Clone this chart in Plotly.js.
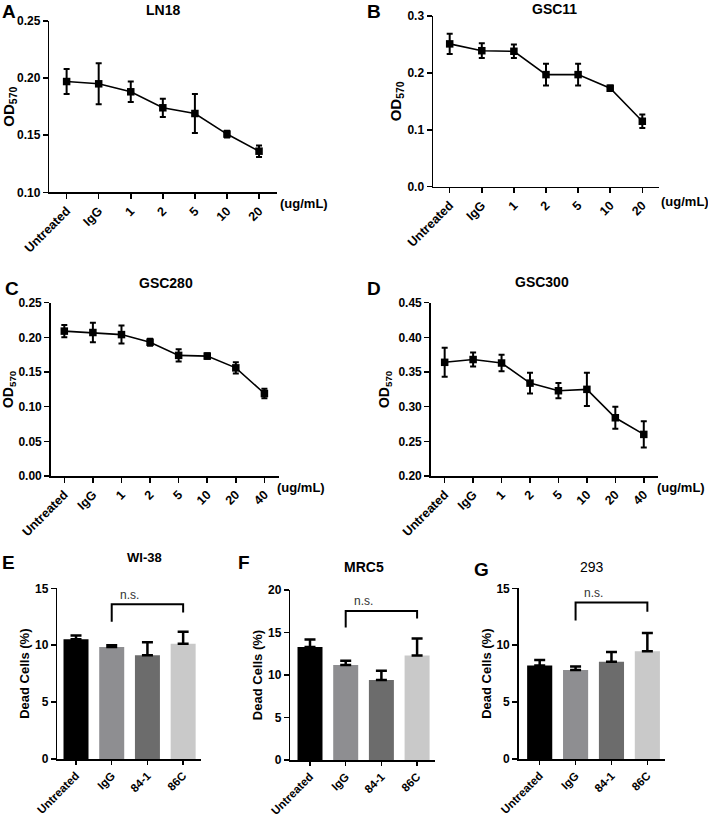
<!DOCTYPE html>
<html>
<head>
<meta charset="utf-8">
<script src="https://cdn.plot.ly/plotly-3.0.1.min.js"></script>
<style>html,body{margin:0;padding:0;background:#fff;}#chart{width:708px;height:816px;}</style>
</head>
<body>
<div id="chart"></div>
<script>
// ---- data ----
const lineCats7 = ['Untreated','IgG','1','2','5','10','20'];
const lineCats8 = ['Untreated','IgG','1','2','5','10','20','40'];
const ln18Mean = [0.197,0.195,0.188,0.174,0.169,0.151,0.136];
const ln18Err  = [0.011,0.018,0.009,0.008,0.017,0.003,0.005];
const gsc11Mean = [0.251,0.239,0.238,0.197,0.197,0.173,0.115];
const gsc11Err  = [0.018,0.013,0.012,0.019,0.019,0.005,0.012];
const gsc280Mean = [0.209,0.207,0.204,0.193,0.174,0.173,0.156,0.119];
const gsc280Err  = [0.009,0.014,0.013,0.005,0.009,0.004,0.008,0.007];
const gsc300Mean = [0.364,0.368,0.363,0.334,0.323,0.325,0.284,0.260];
const gsc300Err  = [0.021,0.010,0.012,0.015,0.011,0.024,0.016,0.019];
const barCats = ['Untreated','IgG','84-1','86C'];
const barColors = ['#000000','#8e8e91','#6c6c6c','#c9c9c9'];
const wi38Mean = [10.53,9.85,9.11,10.12];
const wi38Err  = [0.33,0.15,1.16,1.06];
const mrc5Mean = [13.28,11.17,9.41,12.30];
const mrc5Err  = [0.90,0.51,1.09,2.00];
const h293Mean = [8.21,7.83,8.54,9.46];
const h293Err  = [0.48,0.30,0.86,1.61];
// significance brackets: [leftBottom, top, rightBottom]
const wi38Bracket = [12.07,13.6,12.87];
const mrc5Bracket = [15.6,17.54,16.64];
const h293Bracket = [12.17,13.75,12.95];

const FONT = 'Liberation Sans, Arial, Helvetica, sans-serif';
const W = 708, H = 816;
const px = v => v / W;
const py = v => 1 - v / H;

const traces = [];
function lineTrace(cats, mean, err, ax) {
  traces.push({
    type: 'scatter', mode: 'lines+markers', x: cats, y: mean,
    xaxis: 'x' + ax, yaxis: 'y' + ax,
    line: {color: '#000', width: 1.6},
    marker: {symbol: 'square', size: 7.5, color: '#000'},
    error_y: {type: 'data', array: err, visible: true, color: '#000', thickness: 2, width: 3},
    showlegend: false, cliponaxis: false
  });
}
function barTrace(mean, err, ax, bracket) {
  traces.push({
    type: 'bar', x: barCats, y: mean, xaxis: 'x' + ax, yaxis: 'y' + ax,
    width: 0.7, marker: {color: barColors, line: {width: 0}},
    error_y: {type: 'data', symmetric: false, array: err, arrayminus: err.map(() => 0),
              visible: true, color: '#000', thickness: 2.5, width: 5.5},
    showlegend: false
  });
  traces.push({
    type: 'scatter', mode: 'lines', x: ['IgG','IgG','86C','86C'],
    y: [bracket[0], bracket[1], bracket[1], bracket[2]],
    xaxis: 'x' + ax, yaxis: 'y' + ax,
    line: {color: '#000', width: 2}, showlegend: false, hoverinfo: 'skip'
  });
}

lineTrace(lineCats7, ln18Mean, ln18Err, '');
lineTrace(lineCats7, gsc11Mean, gsc11Err, 2);
lineTrace(lineCats8, gsc280Mean, gsc280Err, 3);
lineTrace(lineCats8, gsc300Mean, gsc300Err, 4);
barTrace(wi38Mean, wi38Err, 5, wi38Bracket);
barTrace(mrc5Mean, mrc5Err, 6, mrc5Bracket);
barTrace(h293Mean, h293Err, 7, h293Bracket);

const yTickFont = {family: FONT, size: 12, color: '#000', weight: 'bold'};
function xAx(x0, x1, r, yanchor, fsize, tlen) {
  return {domain: [px(x0), px(x1)], range: r, type: 'category', anchor: yanchor,
    showline: true, linecolor: '#000', linewidth: 1.5, ticks: 'outside', ticklen: tlen,
    tickwidth: 1.5, tickcolor: '#000', tickangle: -45,
    tickfont: {family: FONT, size: fsize, color: '#000', weight: 'bold'},
    showgrid: false, zeroline: false, fixedrange: true};
}
function yAx(y0, y1, r, dtick, fmt, xanchor, title, tsize, standoff) {
  return {domain: [py(y1), py(y0)], range: r, anchor: xanchor, tick0: r[0], dtick: dtick,
    tickformat: fmt, showline: true, linecolor: '#000', linewidth: 1.5, ticks: 'outside',
    ticklen: 5, tickwidth: 1.5, tickcolor: '#000', tickfont: yTickFont, showgrid: false,
    zeroline: false, fixedrange: true,
    title: {text: title, font: {family: FONT, size: tsize, color: '#000', weight: 'bold'}, standoff: standoff}};
}

const OD = 'OD<sub>570</sub>';
const DC = 'Dead Cells (%)';
const layout = {
  width: W, height: H, margin: {l: 0, r: 0, t: 0, b: 0},
  paper_bgcolor: '#fff', plot_bgcolor: 'rgba(0,0,0,0)', showlegend: false,
  xaxis:  xAx(49.3, 277, [-0.54, 6.56], 'y', 12.5, 5),
  yaxis:  yAx(21, 192.3, [0.10, 0.25], 0.05, '.2f', 'x', OD, 15, 2),
  xaxis2: xAx(433, 659, [-0.52, 6.52], 'y2', 12.5, 5),
  yaxis2: yAx(16, 186.7, [0, 0.3], 0.1, '.1f', 'x2', OD, 15, 2),
  xaxis3: xAx(50.7, 278.7, [-0.476, 7.5], 'y3', 12.5, 5),
  yaxis3: yAx(302.7, 476, [0, 0.25], 0.05, '.2f', 'x3', OD, 14, 4),
  xaxis4: xAx(430.7, 658, [-0.491, 7.5], 'y4', 12.5, 5),
  yaxis4: yAx(302.7, 476, [0.20, 0.45], 0.05, '.2f', 'x4', OD, 14, 5),
  xaxis5: xAx(57.3, 201, [-0.524, 3.5], 'y5', 11.5, 4),
  yaxis5: yAx(588.3, 759, [0, 15], 5, 'd', 'x5', DC, 13, 2),
  xaxis6: xAx(290.3, 435.3, [-0.552, 3.51], 'y6', 11.5, 4),
  yaxis6: yAx(590, 760, [0, 20], 5, 'd', 'x6', DC, 13, 2),
  xaxis7: xAx(518.7, 665.3, [-0.585, 3.5], 'y7', 11.5, 4),
  yaxis7: yAx(588.3, 759, [0, 15], 5, 'd', 'x7', DC, 13, 2),
  annotations: []
};

function paperText(text, x, y, size, bold, xanchor) {
  layout.annotations.push({text: text, x: px(x), y: py(y), xref: 'paper', yref: 'paper',
    xanchor: xanchor || 'center', yanchor: 'middle', showarrow: false,
    font: {family: FONT, size: size, color: '#000', weight: bold ? 'bold' : 'normal'}});
}
// panel letters
paperText('A', 9, 12, 19, true, 'center');
paperText('B', 374, 12, 19, true, 'center');
paperText('C', 12, 288, 19, true, 'center');
paperText('D', 374, 288, 19, true, 'center');
paperText('E', 8, 562, 19, true, 'center');
paperText('F', 244, 562, 19, true, 'center');
paperText('G', 481, 569, 19, true, 'center');
// panel titles
paperText('LN18', 163, 10, 14, true);
paperText('GSC11', 554, 9, 14, true);
paperText('GSC280', 166, 283, 14, true);
paperText('GSC300', 542, 282, 14, true);
paperText('WI-38', 144, 557, 13, true);
paperText('MRC5', 364, 567, 14, true);
paperText('293', 592, 567, 14, false);
// units
paperText('(ug/mL)', 278, 203, 13, true, 'left');
paperText('(ug/mL)', 659, 201, 13, true, 'left');
paperText('(ug/mL)', 275, 487, 13, true, 'left');
paperText('(ug/mL)', 655, 487, 13, true, 'left');
// n.s. labels
[[5, 14.4], [6, 18.7], [7, 14.6]].forEach(([ax, yv]) => {
  layout.annotations.push({text: 'n.s.', x: 1.5, y: yv, xref: 'x' + ax, yref: 'y' + ax,
    showarrow: false, xanchor: 'center', yanchor: 'middle',
    font: {family: FONT, size: 12, color: '#333'}});
});

Plotly.newPlot('chart', traces, layout, {staticPlot: true, displayModeBar: false});
</script>
</body>
</html>
